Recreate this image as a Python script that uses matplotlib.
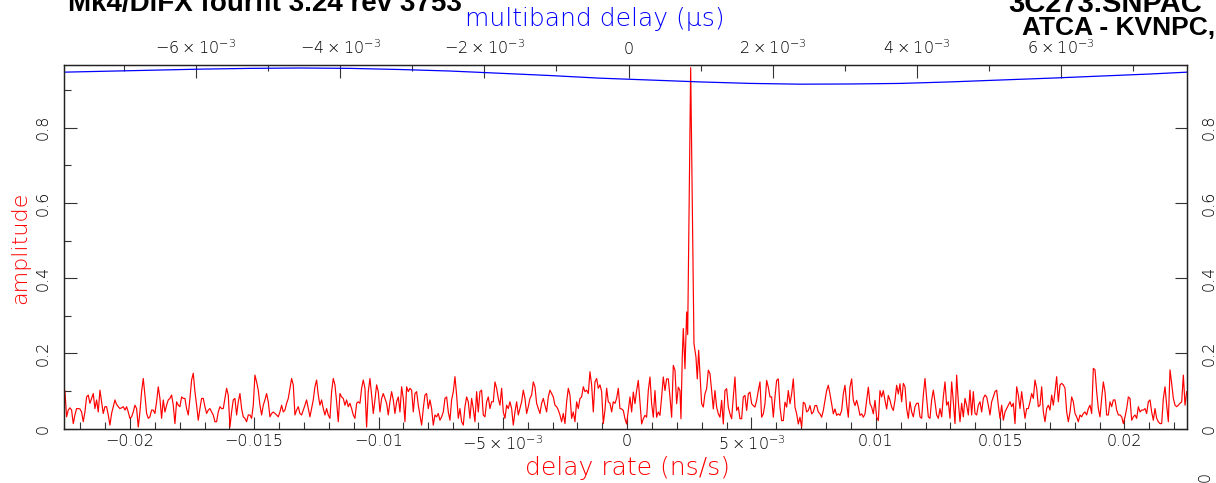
import numpy as np
import matplotlib.pyplot as plt
from matplotlib.ticker import MultipleLocator, FuncFormatter

# thin lettering like the PGPLOT original, also inside the 10^-3 labels
plt.rcParams['mathtext.fontset'] = 'custom'
plt.rcParams['mathtext.rm'] = 'DejaVu Sans:light'
plt.rcParams['mathtext.it'] = 'DejaVu Sans:light:italic'

# Fringe amplitude vs delay rate.
# The noise floor is on a regular delay-rate grid (ns/s), the main lobe is read point by point.
rate_start = -0.022615
rate_step = 6.7043e-5
amp_left = [
    0.100, 0.031, 0.049, 0.055, 0.049, 0.013, 0.036, 0.053, 0.053, 0.052,
    0.044, 0.018, 0.044, 0.084, 0.089, 0.067, 0.080, 0.093, 0.053, 0.076,
    0.044, 0.102, 0.071, 0.040, 0.058, 0.058, 0.036, 0.009, 0.040, 0.058,
    0.076, 0.064, 0.058, 0.053, 0.055, 0.058, 0.049, 0.058, 0.044, 0.027,
    0.031, 0.044, 0.062, 0.053, 0.004, 0.044, 0.098, 0.133, 0.089, 0.040,
    0.027, 0.031, 0.049, 0.049, 0.040, 0.071, 0.111, 0.080, 0.027, 0.076,
    0.044, 0.062, 0.076, 0.080, 0.089, 0.062, 0.013, 0.071, 0.062, 0.058,
    0.084, 0.080, 0.080, 0.053, 0.036, 0.080, 0.129, 0.147, 0.098, 0.062,
    0.022, 0.053, 0.080, 0.080, 0.058, 0.040, 0.049, 0.053, 0.044, 0.036,
    0.018, 0.018, 0.044, 0.058, 0.053, 0.053, 0.080, 0.107, 0.089, 0.004,
    0.044, 0.076, 0.080, 0.036, 0.071, 0.093, 0.053, 0.031, 0.027, 0.018,
    0.036, 0.036, 0.027, 0.062, 0.142, 0.124, 0.102, 0.062, 0.036, 0.062,
    0.076, 0.093, 0.071, 0.031, 0.040, 0.044, 0.040, 0.036, 0.031, 0.044,
    0.062, 0.044, 0.049, 0.067, 0.080, 0.107, 0.133, 0.116, 0.036, 0.049,
    0.058, 0.040, 0.036, 0.049, 0.062, 0.076, 0.053, 0.031, 0.053, 0.076,
    0.111, 0.129, 0.089, 0.062, 0.076, 0.053, 0.036, 0.053, 0.036, 0.027,
    0.098, 0.133, 0.116, 0.071, 0.018,
    0.093, 0.084, 0.080, 0.062, 0.076, 0.058, 0.067, 0.053, 0.036, 0.027,
    0.067, 0.071, 0.067, 0.107, 0.129, 0.107, 0.004, 0.098, 0.133, 0.089,
    0.040, 0.076, 0.116, 0.098, 0.044, 0.080, 0.093, 0.080, 0.067, 0.036,
    0.071, 0.098, 0.076, 0.040, 0.071, 0.084, 0.044, 0.111, 0.080, 0.018,
    0.111, 0.098, 0.107, 0.102, 0.044, 0.093, 0.098, 0.062, 0.036, 0.009,
    0.053, 0.089, 0.093, 0.053, 0.076, 0.053, 0.009, 0.036, 0.031, 0.040,
    0.022, 0.031, 0.044, 0.080, 0.084, 0.044, 0.022, 0.076, 0.098, 0.138,
    0.089, 0.027, 0.053, 0.018, 0.009, 0.058, 0.084, 0.071, 0.027, 0.080,
    0.053, 0.018, 0.098, 0.044, 0.098, 0.102, 0.036, 0.031, 0.071, 0.084,
    0.053, 0.071, 0.071, 0.124, 0.107, 0.080, 0.062, 0.107, 0.044, 0.027,
    0.062, 0.053, 0.071, 0.053, 0.009, 0.044, 0.071, 0.036, 0.053, 0.071,
    0.102, 0.080, 0.040, 0.058, 0.080, 0.089, 0.124, 0.111, 0.067, 0.053,
    0.040, 0.067, 0.080, 0.062, 0.044, 0.084, 0.102, 0.093, 0.084, 0.062,
    0.058, 0.049, 0.036, 0.018, 0.040, 0.013, 0.071, 0.107, 0.089, 0.027,
    0.044, 0.018, 0.071, 0.053, 0.080, 0.084, 0.111, 0.098, 0.102, 0.093,
    0.151, 0.116, 0.044, 0.124, 0.133, 0.107, 0.116, 0.098, 0.013, 0.049,
    0.107, 0.071, 0.067, 0.044, 0.071, 0.067, 0.080, 0.107, 0.053,
    0.052, 0.048, 0.026, 0.012, 0.048, 0.084, 0.044, 0.097, 0.066, 0.101,
    0.128, 0.070, 0.012, 0.026, 0.035, 0.030, 0.101, 0.137, 0.066, 0.030,
    0.101, 0.030, 0.044, 0.035, 0.084, 0.137, 0.101, 0.132, 0.132, 0.084,
    0.030, 0.168, 0.155, 0.066, 0.110, 0.101]
lobe_rate = [0.002164, 0.002216, 0.002257, 0.002325, 0.002393, 0.002434,
             0.002554, 0.002687, 0.002767, 0.002820, 0.002876, 0.002928]
lobe_amp = [0.026, 0.19, 0.266, 0.159, 0.31, 0.25,
            0.96, 0.226, 0.19, 0.132, 0.208, 0.146]
right_first = 382  # grid index where the noise floor resumes after the lobe
amp_right = [
    0.066, 0.057, 0.092, 0.106, 0.155, 0.146, 0.101, 0.052, 0.101, 0.057,
    0.039, 0.030, 0.075, 0.012, 0.101, 0.106, 0.057, 0.039, 0.026, 0.084,
    0.137, 0.048, 0.057, 0.026, 0.026, 0.084, 0.088, 0.048, 0.092, 0.097,
    0.066, 0.061, 0.057, 0.075, 0.101, 0.124, 0.030, 0.039, 0.066, 0.128,
    0.110, 0.084, 0.084, 0.030, 0.084, 0.128, 0.132, 0.057, 0.021, 0.021,
    0.070, 0.057, 0.101, 0.066, 0.092, 0.132, 0.057, 0.039, 0.012, 0.030,
    0.004, 0.070, 0.066, 0.044, 0.048, 0.061, 0.039, 0.044, 0.061, 0.061,
    0.044, 0.039, 0.030, 0.048, 0.075, 0.101, 0.115, 0.092, 0.066, 0.039,
    0.052, 0.035, 0.039, 0.035, 0.048, 0.092, 0.115, 0.066, 0.030, 0.110,
    0.132, 0.075, 0.061, 0.075, 0.057, 0.035, 0.039, 0.030, 0.039, 0.075,
    0.110, 0.066, 0.057, 0.039, 0.075, 0.030, 0.021, 0.101, 0.084, 0.101,
    0.075, 0.052, 0.088, 0.075, 0.057, 0.048, 0.075, 0.115, 0.092, 0.119,
    0.071, 0.120, 0.111, 0.053, 0.027, 0.071, 0.044, 0.031, 0.058, 0.067,
    0.067, 0.031, 0.027, 0.089, 0.133, 0.080, 0.031, 0.027, 0.076, 0.102,
    0.071, 0.036, 0.027, 0.053, 0.031, 0.084, 0.124, 0.062, 0.071, 0.027,
    0.124, 0.071, 0.013, 0.142, 0.071, 0.018, 0.067, 0.031, 0.080, 0.062,
    0.036, 0.102, 0.036, 0.098, 0.040, 0.036, 0.062, 0.071, 0.044, 0.080,
    0.089, 0.084, 0.062, 0.036, 0.071, 0.084, 0.098, 0.102, 0.062, 0.027,
    0.062, 0.022, 0.044, 0.053, 0.062, 0.071, 0.058, 0.067, 0.013, 0.111,
    0.089, 0.053, 0.098, 0.062, 0.027, 0.053, 0.053, 0.071, 0.093, 0.080,
    0.129, 0.107, 0.058, 0.062, 0.111, 0.044, 0.018, 0.053, 0.062, 0.049,
    0.089, 0.062, 0.098, 0.138, 0.071, 0.116, 0.120, 0.116, 0.107, 0.044,
    0.018, 0.044, 0.084, 0.071, 0.040, 0.031, 0.018, 0.036, 0.031, 0.040,
    0.044, 0.036, 0.053, 0.062, 0.040, 0.160, 0.156, 0.098, 0.053, 0.031,
    0.080, 0.124, 0.098, 0.036, 0.036, 0.071, 0.058, 0.076, 0.076, 0.049,
    0.036, 0.036, 0.031, 0.013, 0.031, 0.053, 0.084, 0.080, 0.022, 0.031,
    0.036, 0.027, 0.058, 0.044, 0.049, 0.049, 0.053, 0.040, 0.071, 0.076,
    0.044, 0.022, 0.053, 0.027, 0.018, 0.013, 0.013, 0.080, 0.111, 0.062,
    0.018, 0.156, 0.120, 0.080, 0.062, 0.058, 0.062, 0.067, 0.071, 0.142,
    0.062, 0.098]

# Multiband delay (us) and amplitude
mbd = [-0.00782, -0.00664, -0.00594, -0.00525, -0.00456, -0.00386, -0.00317,
       -0.00248, -0.00178, -0.00109, -0.00040, 0.00030, 0.00099, 0.00169,
       0.00238, 0.00307, 0.00377, 0.00446, 0.00515, 0.00585, 0.00654,
       0.00723, 0.00775]
mbd_amp = [0.948, 0.953, 0.956, 0.958, 0.959, 0.958, 0.955,
           0.951, 0.945, 0.939, 0.932, 0.927, 0.922, 0.918,
           0.916, 0.9165, 0.918, 0.922, 0.927, 0.932, 0.9375,
           0.943, 0.948]

rate_left = rate_start + rate_step * np.arange(len(amp_left))
rate_right = rate_start + rate_step * (right_first + np.arange(len(amp_right)))
rate = np.concatenate([rate_left, lobe_rate, rate_right])
amp = np.concatenate([amp_left, lobe_amp, amp_right])

W, H = 1216, 483
x0, x1, y0, y1 = 64.3, 1187.3, 428.5, 65.0   # frame in pixels
fig = plt.figure(figsize=(W / 100, H / 100), dpi=100)
ax = fig.add_axes([x0 / W, 1 - y0 / H, (x1 - x0) / W, (y0 - y1) / H])

ax.plot(rate, amp, color='#ff0000', lw=0.85)
ax.set_xlim(-0.02264, 0.02253)
ax.set_ylim(0, 0.967)

def rate_fmt(v, pos):
    if abs(v) < 1e-9:
        return '0'
    if abs(abs(v) - 0.005) < 1e-9:
        return r'$%s5\times10^{-3}$' % ('-' if v < 0 else '')
    return ('%.3f' % v).rstrip('0').replace('-', '\u2212')

def mbd_fmt(v, pos):
    n = int(round(v * 1000))
    if n == 0:
        return '0'
    return r'$%d\times10^{-3}$' % n

ax.xaxis.set_major_locator(MultipleLocator(0.005))
ax.xaxis.set_minor_locator(MultipleLocator(0.001))
ax.xaxis.set_major_formatter(FuncFormatter(rate_fmt))
ax.yaxis.set_major_locator(MultipleLocator(0.2))
ax.yaxis.set_minor_locator(MultipleLocator(0.1))
ax.yaxis.set_major_formatter(FuncFormatter(lambda v, p: '%g' % round(v, 3)))
ax.tick_params(axis='both', which='both', direction='in', color='#333333',
               width=0.8, labelsize=11.5)
ax.tick_params(axis='both', which='major', length=9)
ax.tick_params(axis='both', which='minor', length=5)
ax.tick_params(axis='x', pad=4, top=False)
ax.tick_params(axis='y', left=True, right=True, labelleft=True, labelright=True,
               labelrotation=90, pad=10)
ax.set_xlabel('delay rate (ns/s)', color='#ff0000', fontsize=18, va='center',
              fontweight='light')
ax.xaxis.set_label_coords((627 - x0) / (x1 - x0), (y0 - 468) / (y0 - y1))
ax.set_ylabel('amplitude', color='#ff0000', fontsize=16, va='center',
              fontweight='light')
ax.yaxis.set_label_coords((20 - x0) / (x1 - x0), (y0 - 247.5) / (y0 - y1))

# top axis: multiband delay
ax2 = ax.twiny()
ax2.plot(mbd, mbd_amp, color='#0000ff', lw=0.9)
ax2.set_xlim(-0.007825, 0.00775)
ax2.xaxis.set_major_locator(MultipleLocator(0.002))
ax2.xaxis.set_minor_locator(MultipleLocator(0.001))
ax2.xaxis.set_major_formatter(FuncFormatter(mbd_fmt))
ax2.tick_params(axis='x', which='both', direction='in', color='#333333',
                width=0.8, labelsize=11.5, pad=6)
ax2.tick_params(axis='x', which='major', length=9)
ax2.tick_params(axis='x', which='minor', length=4)
ax2.set_xlabel('multiband delay (\u03bcs)', color='#0000ff', fontsize=18, va='center',
               fontweight='light')
ax2.xaxis.set_label_coords((594.5 - x0) / (x1 - x0), (y0 - 19) / (y0 - y1))

for lab in ax.get_xticklabels() + ax.get_yticklabels() + ax2.get_xticklabels():
    lab.set_fontweight('light')
for lab in ax.get_yticklabels():
    lab.set_va('center')

for a in (ax, ax2):
    for s in a.spines.values():
        s.set_linewidth(0.9)
        s.set_color('#222222')

# header text, cut by the top of the image as in the original page
fig.text(462 / W, 1 - 11 / H, 'Mk4/DiFX fourfit 3.24 rev 3753', ha='right',
         va='baseline', fontsize=20, fontweight='bold', family='Liberation Sans')
fig.text(1008 / W, 1 - 12 / H, '3C273.SNPAC', ha='left', va='baseline',
         fontsize=21, fontweight='bold', family='Liberation Sans')
fig.text(1022 / W, 1 - 35 / H, 'ATCA - KVNPC,', ha='left', va='baseline',
         fontsize=19, fontweight='bold', family='Liberation Sans')
fig.text(1205 / W, 1 - 477 / H, '0', ha='center', va='center', rotation=90,
         fontsize=11.5, fontweight='light')

fig.savefig('out.png', dpi=100)
